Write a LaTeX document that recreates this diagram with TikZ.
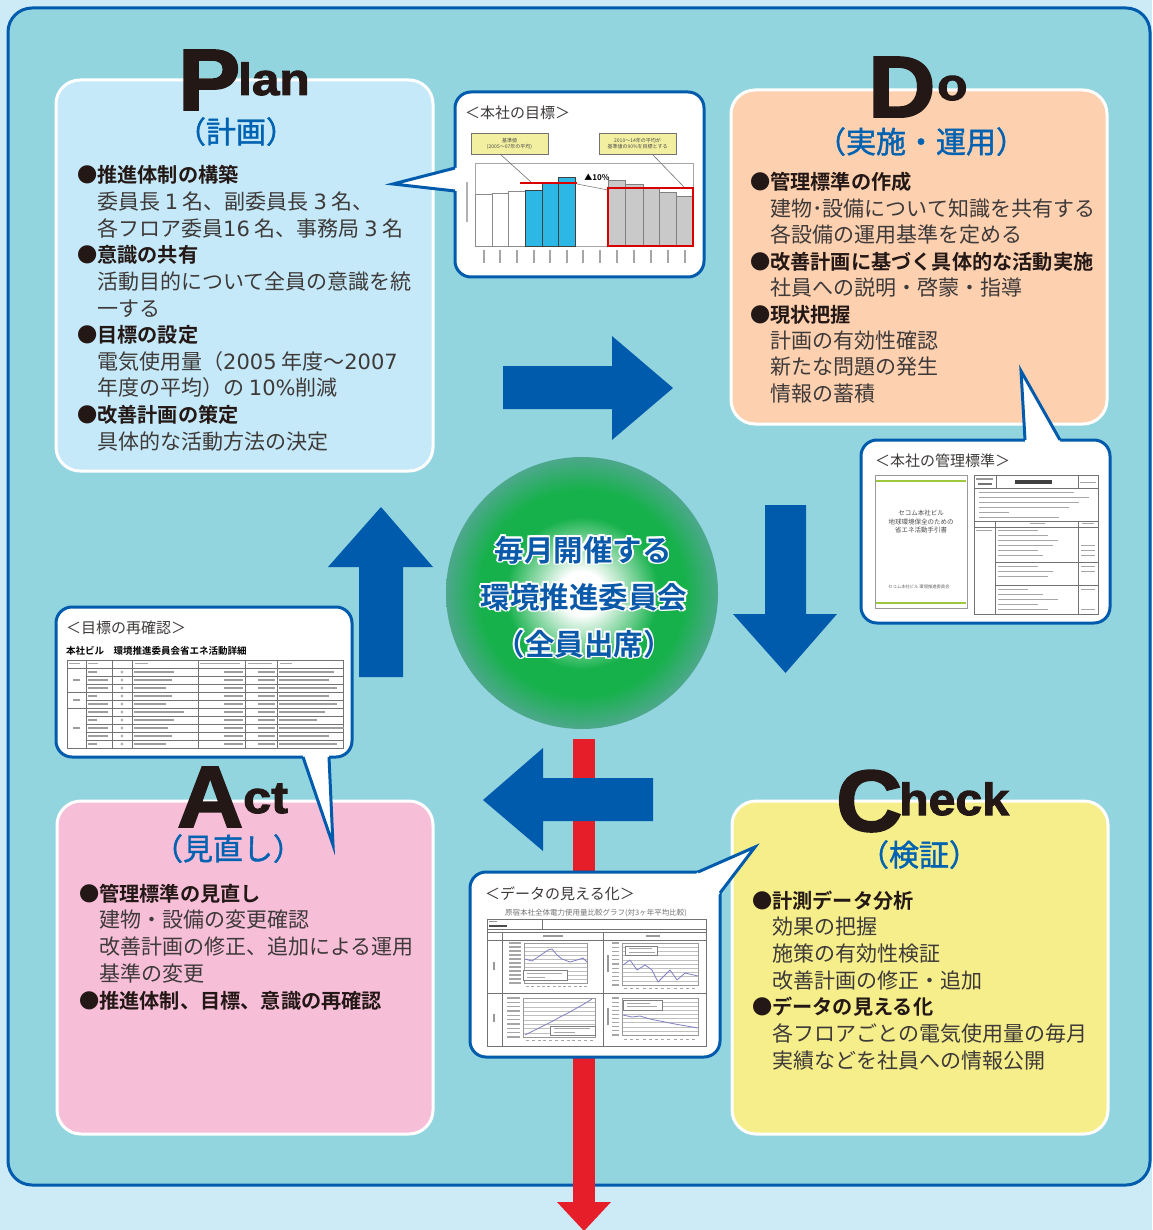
\documentclass[tikz,border=0pt]{standalone}
\usepackage{fontspec}
\setmainfont{Noto Sans CJK JP}[BoldFont={Noto Sans CJK JP Bold}]
\newfontfamily\heavy{Liberation Sans Bold}[FakeBold=2.2]
\newfontfamily\jpmid{Noto Sans CJK JP}[FakeBold=1.3]
\newfontfamily\digitfont{DejaVu Sans}
\usetikzlibrary{calc}
\definecolor{pagebg}{HTML}{CDEAF7}
\definecolor{panel}{HTML}{93D5DF}
\definecolor{pdcablue}{HTML}{005BAC}
\definecolor{planbg}{HTML}{C5E9F8}
\definecolor{dobg}{HTML}{FDD0B0}
\definecolor{actbg}{HTML}{F7BED8}
\definecolor{checkbg}{HTML}{F5EE8A}
\definecolor{headblue}{HTML}{0062B1}
\definecolor{txtdark}{HTML}{231815}
\definecolor{txtgray}{HTML}{3E3A39}
\definecolor{arrowred}{HTML}{E61E2A}
\definecolor{ballgreen}{HTML}{17B14C}
\definecolor{balledge}{HTML}{4DA88C}
\definecolor{circtxt}{HTML}{0B5AAA}
\definecolor{barblue}{HTML}{2DB7E5}
\definecolor{bargray}{HTML}{C9C9C9}
\definecolor{lblyellow}{HTML}{F2EFA0}
\definecolor{docgreen}{HTML}{9DC83E}
\definecolor{plotline}{HTML}{7F7FC4}
\pgfdeclareradialshading{ball}{\pgfpoint{0bp}{0bp}}{color(0bp)=(white); color(4bp)=(white); color(14bp)=(ballgreen); color(19bp)=(ballgreen); color(25bp)=(balledge); color(50bp)=(balledge)}
\tikzset{
  phasebox/.style={draw=white, line width=3pt, rounded corners=24pt},
  callout/.style={fill=white, draw=pdcablue, line width=3pt, rounded corners=16pt},
  tailline/.style={draw=pdcablue, line width=3pt, line join=miter},
  bigarrow/.style={fill=pdcablue, draw=none},
  bodyline/.style={anchor=base west, inner sep=0pt, font=\fontsize{21}{21}\selectfont, text=txtgray},
  phasetitle/.style={anchor=base, inner sep=0pt, font=\jpmid\fontsize{30}{30}\selectfont, text=headblue},
  bigletter/.style={anchor=base west, inner sep=0pt, font=\heavy\fontsize{87}{87}\selectfont, text=txtdark},
  smallletters/.style={anchor=base west, inner sep=0pt, font=\heavy\fontsize{45}{45}\selectfont, text=txtdark},
  thumbtitle/.style={anchor=base west, inner sep=0pt, font=\fontsize{15}{15}\selectfont, text=txtgray},
  tinytext/.style={inner sep=0pt, font=\fontsize{5}{6}\selectfont, text=black!70, align=center},
  circtext/.style={anchor=base, inner sep=0pt, font=\fontsize{29.5}{29.5}\selectfont\bfseries, text=circtxt},
  thin/.style={draw=black!55, line width=0.45pt},
  grid/.style={draw=black!25, line width=0.3pt},
  plotdata/.style={draw=plotline, line width=0.8pt, line join=round},
}
\newcommand\bh[1]{{\fontsize{20.2}{20.2}\selectfont\bfseries\color{txtdark}\llap{●}#1}}
\newcommand\dg[1]{{\digitfont #1}}
\newcommand\wide[2]{\scalebox{#1}[1]{#2}}
\newcommand\phaselines[5]{%
  \foreach \t [count=\i] in {#5} {\node[bodyline] (#1\i) at (#2,{#3+#4*(\i-1)}) {\t};}}
\newcommand\halo[1]{%
  \rlap{\color{white}\hspace*{1.8pt}#1}\rlap{\color{white}\hspace*{-1.8pt}#1}%
  \rlap{\color{white}\raisebox{1.8pt}{#1}}\rlap{\color{white}\raisebox{-1.8pt}{#1}}%
  \rlap{\color{white}\hspace*{1.3pt}\raisebox{1.3pt}{#1}}\rlap{\color{white}\hspace*{-1.3pt}\raisebox{1.3pt}{#1}}%
  \rlap{\color{white}\hspace*{1.3pt}\raisebox{-1.3pt}{#1}}\rlap{\color{white}\hspace*{-1.3pt}\raisebox{-1.3pt}{#1}}%
  #1}
\begin{document}
\begin{tikzpicture}[x=1pt,y=-1pt]
\useasboundingbox (0,0) rectangle (1152,1230);
\fill[pagebg] (0,0) rectangle (1152,1230);
% main panel
\draw[fill=panel, draw=pdcablue, line width=3pt, rounded corners=24pt] (8,8) rectangle (1150,1185);

% phase boxes
\draw[phasebox, fill=planbg] (56,80) rectangle (433,471);
\draw[phasebox, fill=dobg] (731,90) rectangle (1107,424);
\draw[phasebox, fill=actbg] (57,801) rectangle (433,1134);
\draw[phasebox, fill=checkbg] (732,801) rectangle (1108,1134);

% red line to outside
\fill[arrowred] (573,739) rectangle (595,1203);
\fill[arrowred] (557,1202) -- (611,1202) -- (584,1231) -- cycle;

% blue cycle arrows
\fill[bigarrow] (503,366) -- (612,366) -- (612,336) -- (673,388) -- (612,440) -- (612,409) -- (503,409) -- cycle;
\fill[bigarrow] (765,505) -- (806,505) -- (806,614) -- (837,614) -- (785.5,673) -- (733,614) -- (765,614) -- cycle;
\fill[bigarrow] (653,778) -- (543,778) -- (543,748) -- (483,800) -- (543,851) -- (543,821) -- (653,821) -- cycle;
\fill[bigarrow] (359,677) -- (403,677) -- (403,567) -- (433,567) -- (381,507) -- (328,567) -- (359,567) -- cycle;

% central circle
\shade[shading=ball] (582,593) circle[radius=136pt];
\node[circtext] (ctr1) at (583,561) {\halo{毎月開催する}};
\node[circtext] (ctr2) at (584,608) {\halo{環境推進委員会}};
\node[circtext] (ctr3) at (584,655) {\halo{（全員出席）}};

% ---------- callout 1 : target ----------
\draw[callout] (455,92) rectangle (704,277);
\fill[white] (455,168) -- (393,184) -- (455,191) -- (460,191) -- (460,168) -- cycle;
\draw[tailline] (455,168) -- (393,184) -- (455,191);
\node[thumbtitle] (t1title) at (465,119) {＜本社の目標＞};
\draw[thin, fill=lblyellow] (471,133) rectangle (548,154);
\node[tinytext] (t1lbl1) at (509.5,143.5) {基準値\\(2005～07年の平均)};
\draw[thin, fill=lblyellow] (599,133) rectangle (676,154);
\node[tinytext] (t1lbl2) at (637.5,143.5) {2010～14年の平均が\\基準値の90\%を目標とする};
\draw[draw=black!35, line width=0.5pt] (475,163) rectangle (693,246);
\foreach \xa/\xb/\yt in {475/492/194, 492/508/193, 508/525/191}
  \draw[draw=black!45, fill=white, line width=0.5pt] (\xa,\yt) rectangle (\xb,246);
\foreach \xa/\xb/\yt in {525/542/190, 542/558/183, 558/575/177}
  \draw[draw=black!75, fill=barblue, line width=0.5pt] (\xa,\yt) rectangle (\xb,246);
\foreach \xa/\xb/\yt in {608/625/180, 625/643/184, 643/659/188, 659/676/192, 676/693/196}
  \draw[draw=black!50, fill=bargray, line width=0.5pt] (\xa,\yt) rectangle (\xb,246);
\draw[draw=black!55, line width=0.6pt] (500,154) -- (531,182);
\draw[draw=black!55, line width=0.6pt] (652,154) -- (684,187);
\draw[draw=black!50, line width=0.6pt] (577,184) -- (608,190);
\draw[draw=red!85!black, line width=1.5pt] (520,183) -- (577,183);
\draw[draw=red!85!black, line width=1.3pt] (608,188) rectangle (693,246);
\node[inner sep=0pt, font=\fontsize{8}{8}\selectfont\bfseries, text=black] (t1pct) at (597,177) {▲10\%};
\fill[black!30] (466,182) rectangle (468,222);
\foreach \xc in {483.5,500,516.5,533.5,550,566.5,583,600,616.5,634,651,667.5,684.5}
  \fill[black!35] ({\xc-1},250) rectangle ({\xc+1},263);

% ---------- callout 2 : management standard ----------
\draw[callout] (861,440) rectangle (1110,623);
\fill[white] (1025,440) -- (1021,371) -- (1060,440) -- (1060,445) -- (1025,445) -- cycle;
\draw[tailline] (1025,440) -- (1021,371) -- (1060,440);
\node[thumbtitle] (t2title) at (875,466) {＜本社の管理標準＞};
\draw[draw=black!40, line width=0.5pt] (875,475) rectangle (967,608);
\draw[draw=docgreen, line width=2pt] (876,481) -- (966,481);
\draw[draw=docgreen, line width=2pt] (876,603) -- (966,603);
\node[inner sep=0pt, font=\fontsize{6.5}{8.5}\selectfont, text=black!70, align=center] (t2doc) at (921,522) {セコム本社ビル\\地球環境保全のための\\省エネ活動手引書};
\node[inner sep=0pt, font=\fontsize{4.3}{4.3}\selectfont, text=black!60] (t2foot) at (919,587) {セコム本社ビル 環境推進委員会};
\draw[thin] (974,475) rectangle (1098,614);
\draw[thin] (974,488) -- (1098,488);
\draw[thin] (996,475) -- (996,488);
\draw[thin] (1078,475) -- (1078,488);
\fill[black!75] (1015,480) rectangle (1052,483.5);
\fill[black!40] (976,478) rectangle (993,479.5);
\fill[black!55] (978,483) rectangle (992,485);
\fill[black!35] (1080,482) rectangle (1096,483.2);
\foreach \yy/\w in {492/95,497/110,502/100,507/90,512/30,517/80}
  \fill[black!35] (979,\yy) rectangle ({979+\w},{\yy+1.4});
\draw[thin] (974,521) -- (1098,521);
\draw[thin] (974,527) -- (1098,527);
\draw[thin] (995,521) -- (995,614);
\draw[thin] (1078,521) -- (1078,614);
\draw[thin] (995,562) -- (1098,562);
\draw[thin] (995,585) -- (1098,585);
\fill[black!35] (1030,523) rectangle (1045,524.4);
\fill[black!35] (1082,523) rectangle (1094,524.4);
\fill[black!35] (976,530) rectangle (992,531.4);
\foreach \yy/\w in {530/40,535/50,540/60,545/55,550/40,555/45,566/40,571/55,576/50,589/30,594/45,599/60,604/40,609/50}
  \fill[black!35] (998,\yy) rectangle ({998+\w},{\yy+1.4});
\foreach \yy in {545,550,555,566,571,589,609}
  \fill[black!35] (1081,\yy) rectangle (1095,{\yy+1.4});

% ---------- callout 3 : target reconfirmation ----------
\draw[callout] (56,607) rectangle (352,757);
\fill[white] (303,757) -- (333,845) -- (329,757) -- (329,752) -- (303,752) -- cycle;
\draw[tailline] (303,757) -- (333,845) -- (329,757);
\node[thumbtitle] (t3title) at (66,633) {＜目標の再確認＞};
\node[anchor=base west, inner sep=0pt, font=\fontsize{9.5}{9.5}\selectfont\bfseries, text=black] (t3head) at (66,654) {本社ビル　環境推進委員会省エネ活動詳細};
\draw[thin] (67,660) rectangle (343,748);
\foreach \yy in {668,676,684,692,700,708,716,724,732,740}
  \draw[thin] (86,\yy) -- (343,\yy);
\draw[thin] (67,668) -- (86,668);
\draw[thin] (67,692) -- (86,692);
\draw[thin] (67,708) -- (86,708);
\foreach \xx in {86,112,132,198,245,277}
  \draw[thin] (\xx,660) -- (\xx,748);
\foreach \xa/\xb in {69/80,88/98,135/148,200/240,248/272,280/292}
  \fill[black!35] (\xa,663) rectangle (\xb,664.4);
\foreach \r/\wa/\wc in {0/30/45,1/28/40,2/22/48,3/28/40,4/22/48,5/40/36,6/30/28,7/24/55,8/28/40,9/22/48}{
  \fill[black!38] (88,{671+8*\r}) rectangle ({88+(mod(\r,3)==0 ? 9 : 20)},{672.5+8*\r});
  \fill[black!30] (122,{672+8*\r}) circle[radius=1.6pt];
  \fill[black!38] (134,{671+8*\r}) rectangle ({134+\wa+10},{672.5+8*\r});
  \fill[black!38] (224,{671+8*\r}) rectangle (243,{672.5+8*\r});
  \fill[black!38] (258,{671+8*\r}) rectangle (275,{672.5+8*\r});
  \fill[black!38] (279,{671+8*\r}) rectangle ({279+\wc+10},{672.5+8*\r});
}
\foreach \yy in {680,700,728}
  \fill[black!38] (73,{\yy-0.7}) rectangle (80,{\yy+0.7});

% ---------- callout 4 : data visualisation ----------
\draw[callout] (470,872) rectangle (720,1057);
\fill[white] (698,872) -- (755,847) -- (720,893) -- (716,897) -- (694,876) -- cycle;
\draw[tailline] (698,872) -- (755,847) -- (720,893);
\node[thumbtitle] (t4title) at (485,899) {＜データの見える化＞};
\node[inner sep=0pt, font=\fontsize{7.5}{7.5}\selectfont, text=black!55] (t4chart) at (596,913) {原宿本社全体電力使用量比較グラフ(対3ヶ年平均比較)};
\draw[thin] (487,919) rectangle (706,1046);
\draw[thin] (487,929) -- (706,929);
\draw[thin] (487,932) -- (706,932);
\draw[thin] (487,940) -- (706,940);
\draw[thin] (487,993) -- (706,993);
\draw[thin] (502,932) -- (502,1046);
\draw[thin] (603,932) -- (603,1046);
\draw[thin] (542,919) -- (542,929);
\fill[black!40] (489,921) rectangle (497,922.3);
\fill[black!70] (489,925) rectangle (507,927);
\fill[black!40] (543,935) rectangle (563,936.5);
\fill[black!40] (646,935) rectangle (660,936.5);
\fill[black!40] (493,962) rectangle (495,970);
\fill[black!40] (493,1014) rectangle (495,1022);
% top-left chart
\foreach \k in {0,...,10} {\draw[grid] (524,{943+4*\k}) -- (587,{943+4*\k});
  \fill[black!35] (509,{942.4+4*\k}) rectangle (521,{943.6+4*\k});}
\draw[draw=black!40, line width=0.4pt] (524,943) rectangle (587,983);
\foreach \k in {0,...,11} \fill[black!35] ({526+5.3*\k},986) rectangle ({529+5.3*\k},987.2);
\draw[plotdata] (525,959) -- (532,961) -- (538,957) -- (548,950) -- (552,949) -- (557,955) -- (562,959) -- (570,962) -- (577,960) -- (583,958) -- (587,962);
\draw[draw=black!50, fill=white, line width=0.4pt] (523,970) rectangle (567,980);
\fill[black!35] (527,972.5) rectangle (562,973.6);
\fill[black!35] (527,976.5) rectangle (545,977.6);
% top-right chart
\foreach \k in {0,...,10} {\draw[grid] (622,{943+4.2*\k}) -- (698,{943+4.2*\k});
  \fill[black!35] (612,{942.4+4.2*\k}) rectangle (619,{943.6+4.2*\k});}
\draw[draw=black!40, line width=0.4pt] (622,943) rectangle (698,985);
\fill[black!40] (607,955) rectangle (608.5,972);
\foreach \k in {0,...,11} \fill[black!35] ({624+6.2*\k},988) rectangle ({627+6.2*\k},989.2);
\draw[plotdata] (623,965) -- (630,960) -- (637,970) -- (645,965) -- (652,970) -- (658,982) -- (670,970) -- (677,980) -- (685,973) -- (698,976);
\draw[draw=black!50, fill=white, line width=0.4pt] (625,946) rectangle (657,955);
\fill[black!35] (629,948.3) rectangle (652,949.4);
\fill[black!35] (629,951.8) rectangle (655,952.9);
% bottom-left chart
\foreach \k in {0,...,9} {\draw[grid] (523,{998+4.33*\k}) -- (595,{998+4.33*\k});
  \fill[black!35] (507,{997.4+4.33*\k}) rectangle (520,{998.6+4.33*\k});}
\draw[draw=black!40, line width=0.4pt] (523,998) rectangle (595,1037);
\foreach \k in {0,...,11} \fill[black!35] ({526+5.8*\k},1039.5) rectangle ({529+5.8*\k},1040.7);
\draw[plotdata] (525,1035) -- (535,1030) -- (545,1025) -- (553,1021) -- (560,1017) -- (568,1013) -- (575,1009) -- (584,1004) -- (592,999);
\draw[draw=black!50, fill=white, line width=0.4pt] (550,1026) rectangle (595,1035);
\fill[black!35] (554,1028.3) rectangle (590,1029.4);
\fill[black!35] (554,1031.8) rectangle (575,1032.9);
% bottom-right chart
\foreach \k in {0,...,9} {\draw[grid] (622,{998+4.1*\k}) -- (698,{998+4.1*\k});
  \fill[black!35] (612,{997.4+4.1*\k}) rectangle (619,{998.6+4.1*\k});}
\draw[draw=black!40, line width=0.4pt] (622,998) rectangle (698,1035);
\fill[black!40] (607,1008) rectangle (608.5,1025);
\foreach \k in {0,...,11} \fill[black!35] ({624+6.2*\k},1038.5) rectangle ({627+6.2*\k},1039.7);
\draw[plotdata] (623,1015) -- (632,1017) -- (640,1016) -- (650,1019) -- (660,1021) -- (675,1024) -- (698,1028);
\draw[draw=black!50, fill=white, line width=0.4pt] (623,1000) rectangle (662,1010);
\fill[black!35] (627,1002.5) rectangle (650,1003.6);
\fill[black!35] (627,1006) rectangle (657,1007.1);

% ---------- phase headings ----------
\node[bigletter] (planP) at (178,110) {\wide{1.07}{P}};
\node[smallletters] (planlan) at (238,95) {\wide{1.1}{lan}};
\node[phasetitle] (plantitle) at (236,143) {（計画）};
\node[bigletter] (doD) at (868,117) {\wide{1.07}{D}};
\node[smallletters] (doo) at (937,100) {\wide{1.1}{o}};
\node[phasetitle] (dotitle) at (921,153) {（実施・運用）};
\node[bigletter] (actA) at (177,827) {\wide{1.05}{A}};
\node[smallletters] (actct) at (243,813) {\wide{1.12}{ct}};
\node[phasetitle] (acttitle) at (228,860) {（見直し）};
\node[bigletter] (checkC) at (836,831) {\wide{1.05}{C}};
\node[smallletters] (checkheck) at (899,815) {\wide{1.07}{heck}};
\node[phasetitle] (checktitle) at (919,866) {（検証）};

% ---------- phase texts ----------
\phaselines{plan}{97}{183}{26.6}{{\bh{推進体制の構築}},{委員長 \dg{1} 名、副委員長 \dg{3} 名、},{各フロア委員\dg{16} 名、事務局 \dg{3} 名},{\bh{意識の共有}},{活動目的について全員の意識を統},{一する},{\bh{目標の設定}},{電気使用量（\dg{2005} 年度～\dg{2007}},{年度の平均）の \dg{10\%}削減},{\bh{改善計画の策定}},{具体的な活動方法の決定}}
\phaselines{do}{770}{190}{26.4}{{\bh{管理標準の作成}},{建物･設備について知識を共有する},{各設備の運用基準を定める},{\bh{改善計画に基づく具体的な活動実施}},{社員への説明・啓蒙・指導},{\bh{現状把握}},{計画の有効性確認},{新たな問題の発生},{情報の蓄積}}
\phaselines{act}{99}{901}{26.75}{{\bh{管理標準の見直し}},{建物・設備の変更確認},{改善計画の修正、追加による運用},{基準の変更},{\bh{推進体制、目標、意識の再確認}}}
\phaselines{check}{772}{908}{26.67}{{\bh{計測データ分析}},{効果の把握},{施策の有効性検証},{改善計画の修正・追加},{\bh{データの見える化}},{各フロアごとの電気使用量の毎月},{実績などを社員への情報公開}}
\end{tikzpicture}
\end{document}
